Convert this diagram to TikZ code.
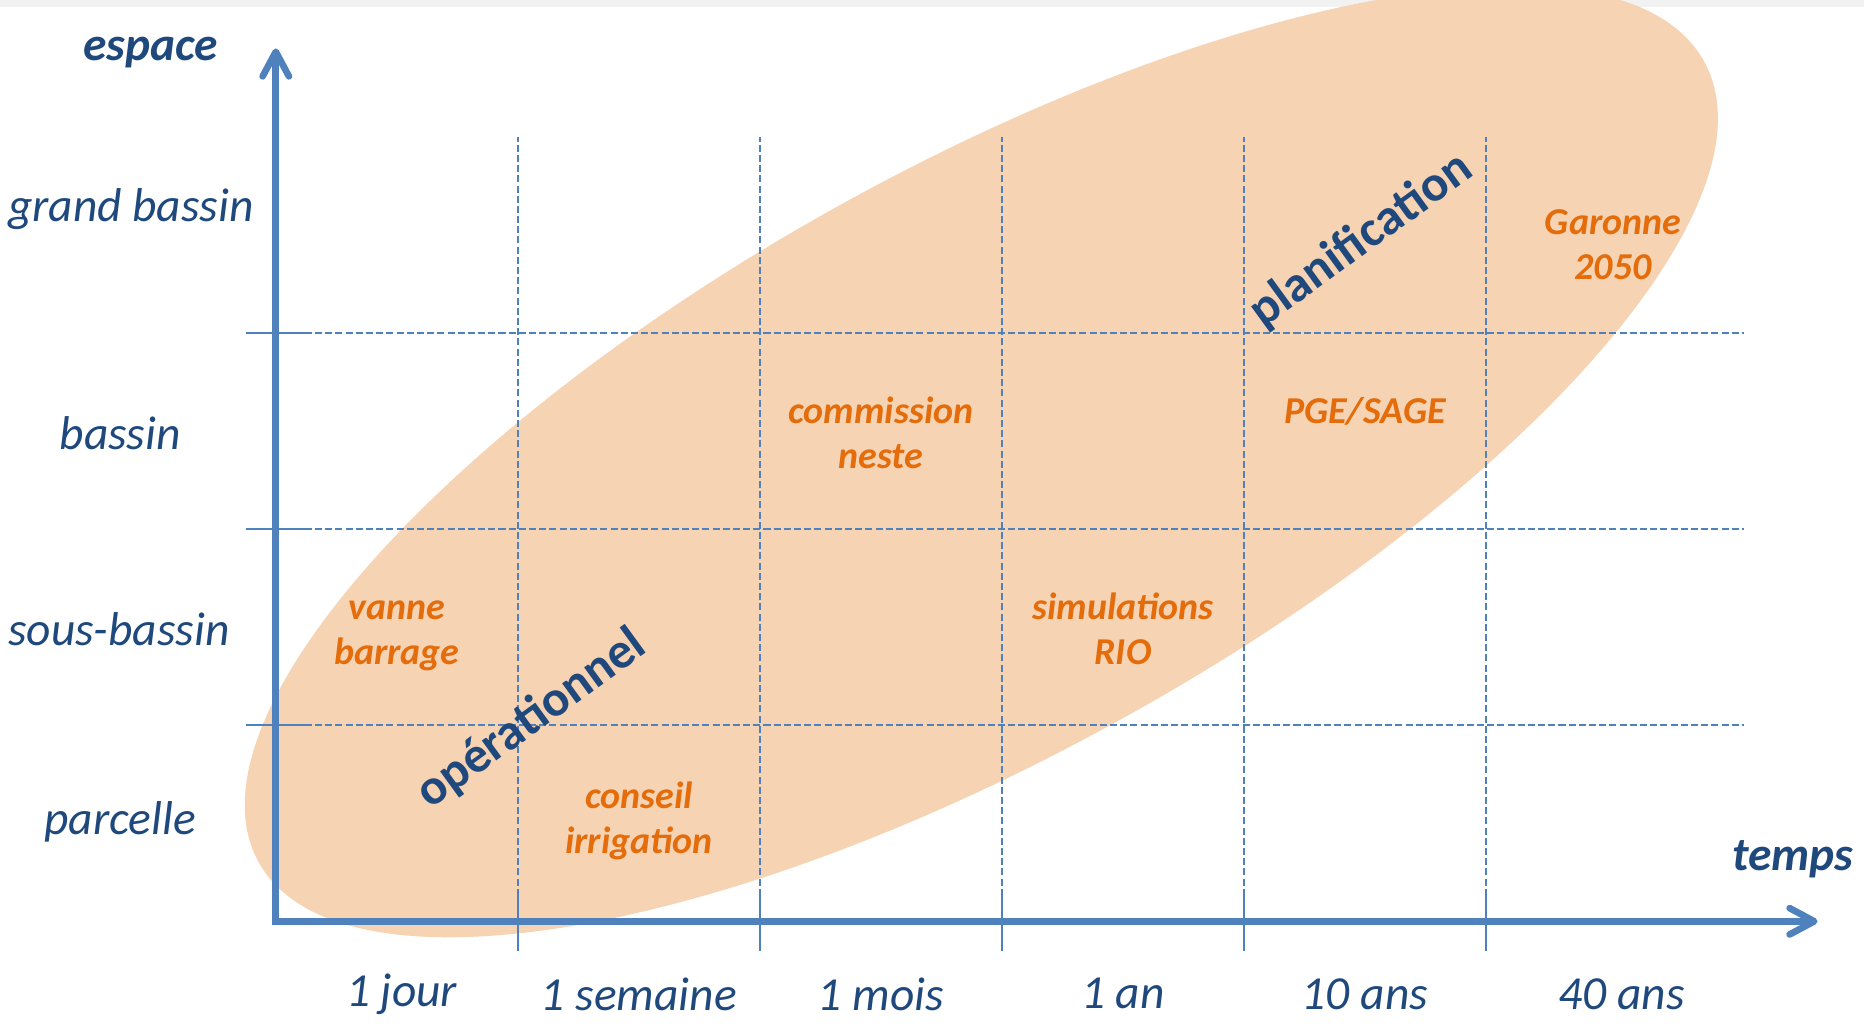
\documentclass[tikz,border=0pt]{standalone}
\usepackage{fontspec}
\setmainfont{Carlito}
\usetikzlibrary{arrows.meta}

\definecolor{axisblue}{HTML}{4F81BD}
\definecolor{darkblue}{HTML}{1F497D}
\definecolor{toolorange}{HTML}{E46C0A}
\definecolor{peach}{HTML}{F5D3B3}

\begin{document}
\begin{tikzpicture}[x=2.4204cm, y=1.9615cm]
            \tikzstyle{axisline}=[draw=axisblue, line width=1.9pt,
            {Straight Barb[length=7pt, width=7.5pt, round]}-{Straight Barb[length=7pt, width=7.5pt, round]}]
            \tikzstyle{gridline}=[draw=axisblue, line width=0.45pt,
            dash pattern=on 2pt off 0.9pt]
            \tikzstyle{tickmark}=[draw=axisblue, line width=0.45pt]
            \tikzstyle{axistitle}=[text=darkblue,
            font=\fontsize{13.5}{16}\selectfont\bfseries\itshape]
            \tikzstyle{ticklabel}=[text=darkblue,
            font=\fontsize{13.5}{16}\selectfont\itshape]
            \tikzstyle{tool}=[text=toolorange, align=center,
            font=\fontsize{10.8}{12.8}\selectfont\bfseries\itshape]
            \tikzstyle{mode}=[text=darkblue, rotate=36,
            font=\fontsize{14.4}{16}\selectfont\bfseries]

            \useasboundingbox (-1.1395,-0.5212) rectangle (6.5619,4.697);
            \fill[gray!10] (-1.1395,4.661) rectangle (6.5619,4.697);

            % zone couverte
            \fill[peach, shift={(2.915,2.343)}, rotate=29]
            (0,0) ellipse [x radius=8.262cm, y radius=2.93cm];

            \coordinate (o) at (0,0);
            \coordinate (ytop) at (0,4.45);
            \coordinate (xend) at (6.37,0);

            % quadrillage
            \foreach \i in {1,...,5} {
            \draw[gridline] (\i,0.13) -- (\i,4.0);
            \draw[tickmark] (\i,-0.15) -- (\i,0.13);
            }
            \foreach \j in {1,2,3} {
            \draw[gridline] (0.12,\j) -- (6.066,\j);
            \draw[tickmark] (-0.123,\j) -- (0.12,\j);
            }

            \draw[axisline] (ytop) -- (o) -- (xend);

            \node[axistitle] (espace) at (-0.516,4.43) {espace};
            \node[axistitle] (temps) at (6.267,0.315) {temps};

            \foreach \x/\y/\n/\t in {-0.643/0.505/parcelle/parcelle,
            -0.648/1.49/sousbassin/sous-bassin, -0.643/2.49/bassin/bassin,
            -0.599/3.63/grandbassin/grand bassin}
            \node[ticklabel] (\n) at (\x,\y) {\t};

            \foreach \x/\n/\t in {0.52/jour/1 jour, 1.5/semaine/1 semaine,
            2.5/mois/1 mois, 3.5/an/1 an, 4.5/dixans/10 ans, 5.56/quarante/40 ans}
            \node[ticklabel] (\n) at (\x,-0.37) {\t};

            \node[tool] (vanne) at (0.5,1.455) {vanne\\barrage};
            \node[tool] (conseil) at (1.5,0.51) {conseil\\irrigation};
            \node[tool] (commission) at (2.5,2.49) {commission\\neste};
            \node[tool] (simulations) at (3.5,1.49) {simulations\\RIO};
            \node[tool] (pge) at (4.5,2.6) {PGE/SAGE};
            \node[tool] (garonne) at (5.525,3.45) {Garonne\\2050};

            \node[mode] (operationnel) at (1.056,1.03) {opérationnel};
            \node[mode] (planification) at (4.484,3.47) {planification};
        \end{tikzpicture}
\end{document}
